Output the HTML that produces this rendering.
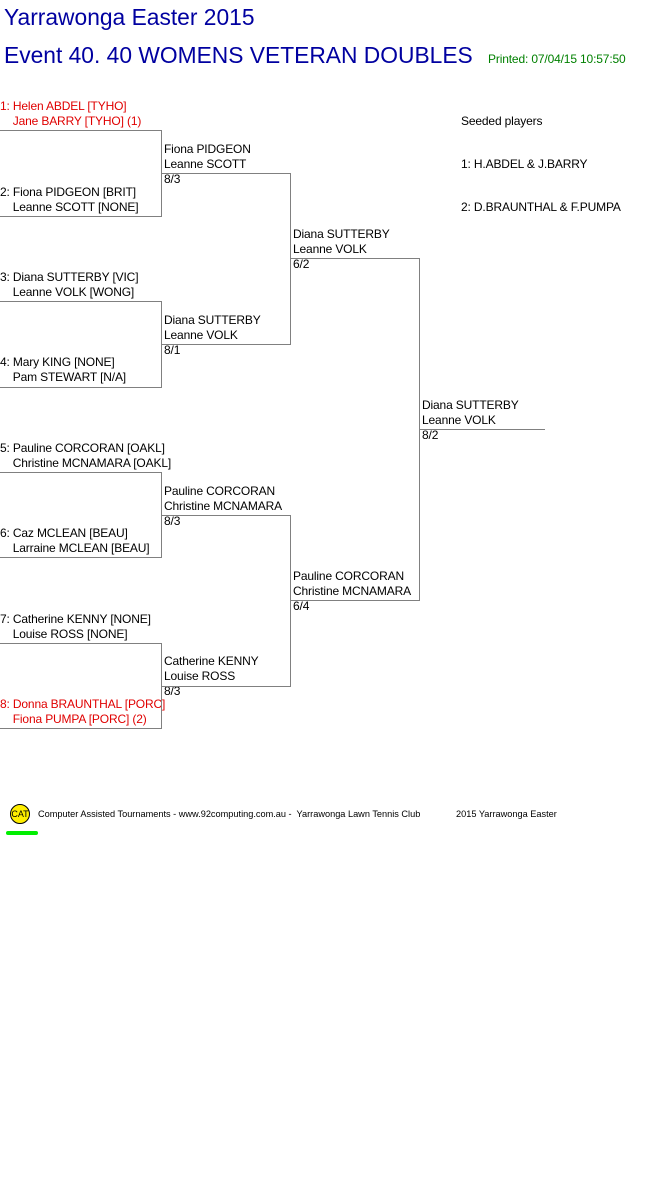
<!DOCTYPE html>
<html><head><meta charset="utf-8"><style>
body{margin:0;width:661px;height:1196px;background:#fff;position:relative;font-family:"Liberation Sans",Arial,sans-serif;overflow:hidden}
.t{position:absolute;font-size:12px;line-height:15px;white-space:nowrap;color:#000;letter-spacing:-0.15px}
.r{color:#e00000}
.h{position:absolute;height:1px;background:#808080}
.v{position:absolute;width:1px;background:#808080}
</style></head><body>
<div style="position:absolute;left:4px;top:4px;font-size:22.8px;color:#0000a0;white-space:nowrap">Yarrawonga Easter 2015</div>
<div style="position:absolute;left:4px;top:42px;font-size:22.8px;color:#0000a0;white-space:nowrap">Event 40. 40 WOMENS VETERAN DOUBLES</div>
<div class="t" style="left:488px;top:52px;color:#008000">Printed: 07/04/15 10:57:50</div>

<div class="t r" style="left:0;top:99px">1: Helen ABDEL [TYHO]<br>&nbsp;&nbsp;&nbsp; Jane BARRY [TYHO] (1)</div>
<div class="t" style="left:0;top:185px">2: Fiona PIDGEON [BRIT]<br>&nbsp;&nbsp;&nbsp; Leanne SCOTT [NONE]</div>
<div class="t" style="left:0;top:270px">3: Diana SUTTERBY [VIC]<br>&nbsp;&nbsp;&nbsp; Leanne VOLK [WONG]</div>
<div class="t" style="left:0;top:355px">4: Mary KING [NONE]<br>&nbsp;&nbsp;&nbsp; Pam STEWART [N/A]</div>
<div class="t" style="left:0;top:441px">5: Pauline CORCORAN [OAKL]<br>&nbsp;&nbsp;&nbsp; Christine MCNAMARA [OAKL]</div>
<div class="t" style="left:0;top:526px">6: Caz MCLEAN [BEAU]<br>&nbsp;&nbsp;&nbsp; Larraine MCLEAN [BEAU]</div>
<div class="t" style="left:0;top:612px">7: Catherine KENNY [NONE]<br>&nbsp;&nbsp;&nbsp; Louise ROSS [NONE]</div>
<div class="t r" style="left:0;top:697px">8: Donna BRAUNTHAL [PORC]<br>&nbsp;&nbsp;&nbsp; Fiona PUMPA [PORC] (2)</div>

<div class="h" style="left:0;top:130px;width:162px"></div>
<div class="h" style="left:0;top:216px;width:162px"></div>
<div class="v" style="left:161px;top:130px;height:87px"></div>
<div class="h" style="left:0;top:301px;width:162px"></div>
<div class="h" style="left:0;top:387px;width:162px"></div>
<div class="v" style="left:161px;top:301px;height:87px"></div>
<div class="h" style="left:0;top:472px;width:162px"></div>
<div class="h" style="left:0;top:557px;width:162px"></div>
<div class="v" style="left:161px;top:472px;height:86px"></div>
<div class="h" style="left:0;top:643px;width:162px"></div>
<div class="h" style="left:0;top:728px;width:162px"></div>
<div class="v" style="left:161px;top:643px;height:86px"></div>

<div class="t" style="left:164px;top:142px">Fiona PIDGEON<br>Leanne SCOTT<br>8/3</div>
<div class="t" style="left:164px;top:313px">Diana SUTTERBY<br>Leanne VOLK<br>8/1</div>
<div class="t" style="left:164px;top:484px">Pauline CORCORAN<br>Christine MCNAMARA<br>8/3</div>
<div class="t" style="left:164px;top:654px">Catherine KENNY<br>Louise ROSS<br>8/3</div>

<div class="h" style="left:161px;top:173px;width:130px"></div>
<div class="h" style="left:161px;top:344px;width:130px"></div>
<div class="v" style="left:290px;top:173px;height:172px"></div>
<div class="h" style="left:161px;top:515px;width:130px"></div>
<div class="h" style="left:161px;top:686px;width:130px"></div>
<div class="v" style="left:290px;top:515px;height:172px"></div>

<div class="t" style="left:293px;top:227px">Diana SUTTERBY<br>Leanne VOLK<br>6/2</div>
<div class="t" style="left:293px;top:569px">Pauline CORCORAN<br>Christine MCNAMARA<br>6/4</div>

<div class="h" style="left:290px;top:258px;width:130px"></div>
<div class="h" style="left:290px;top:600px;width:130px"></div>
<div class="v" style="left:419px;top:258px;height:343px"></div>

<div class="t" style="left:422px;top:398px">Diana SUTTERBY<br>Leanne VOLK<br>8/2</div>
<div class="h" style="left:419px;top:429px;width:126px"></div>

<div class="t" style="left:461px;top:114px">Seeded players</div>
<div class="t" style="left:461px;top:157px">1: H.ABDEL &amp; J.BARRY</div>
<div class="t" style="left:461px;top:200px">2: D.BRAUNTHAL &amp; F.PUMPA</div>

<div style="position:absolute;left:10px;top:804px;width:20px;height:20px;border-radius:50%;background:#ffee00;border:1px solid #000;box-sizing:border-box;font-size:9px;line-height:18px;text-align:center">CAT</div>
<div style="position:absolute;left:6px;top:831px;width:32px;height:4px;border-radius:2px;background:#00ee00"></div>
<div class="t" style="left:38px;top:807px;font-size:9.2px;letter-spacing:0">Computer Assisted Tournaments - www.92computing.com.au -&nbsp; Yarrawonga Lawn Tennis Club</div>
<div class="t" style="left:456px;top:807px;font-size:9.2px;letter-spacing:0">2015 Yarrawonga Easter</div>
</body></html>
